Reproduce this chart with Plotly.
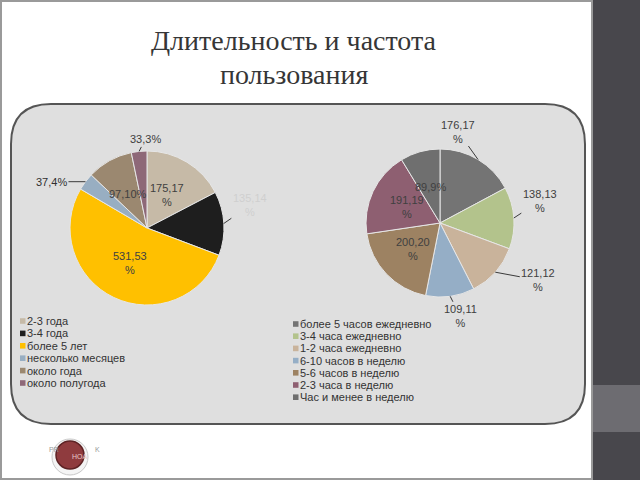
import math
import plotly.graph_objects as go

W, H = 640, 480

# ---------------- data ----------------
dur_labels = ["2-3 года", "3-4 года", "более 5 лет", "несколько месяцев", "около года", "около полугода"]
dur_values = [175, 135, 531, 37, 97, 33]
dur_pct = [17, 14, 53, 4, 10, 3]

freq_labels = ["более 5 часов ежедневно", "3-4 часа ежедневно", "1-2 часа ежедневно",
               "6-10 часов в неделю", "5-6 часов в неделю", "2-3 часа в неделю",
               "Час и менее в неделю"]
freq_values = [176, 138, 121, 109, 200, 191, 89]
freq_pct = [17, 13, 12, 11, 20, 19, 9]

title_lines = ["Длительность и частота", "пользования"]

# ---------------- styles ----------------
dur_colors = ["#c6baa7", "#1e1e1e", "#ffc000", "#98aec2", "#9b8870", "#8e6878"]
freq_colors = ["#747474", "#b3c38c", "#c9b39b", "#95aec6", "#9d8262", "#8e5f71", "#6f6f6f"]

# label placement per slice: None -> inside (half radius), (dx, dy) -> outside offset in px
dur_label_style = [None, (26, -18), None, (-34, 0), None, (6, -12)]
dur_one_line = [False, False, False, True, True, True]
dur_text_colors = ["#404040", "#cfcfcf", "#404040", "#303030", "#404040", "#404040"]

freq_label_style = [(-20, -28), (26, -17), (43, 8), (10, 20), None, None, None]
freq_one_line = [False, False, False, False, False, False, True]
freq_text_colors = ["#404040"] * 7

FONT = "Liberation Sans, Arial"


def px(x):
    return x / W


def py(y):
    return 1 - y / H


fig = go.Figure()
shapes = []
annotations = []


def add_pie(labels, values, pcts, colors, cx, cy, r, style, one_line, tcolors):
    fig.add_trace(go.Pie(
        labels=labels, values=values, textinfo="none",
        marker=dict(colors=colors, line=dict(color="#e6e6e6", width=1)),
        sort=False, direction="clockwise", rotation=0,
        domain=dict(x=[px(cx - r), px(cx + r)], y=[py(cy + r), py(cy - r)]),
        showlegend=False, hoverinfo="label+value+percent",
    ))
    total = sum(values)
    cum = 0
    for v, p, st, ol, tc in zip(values, pcts, style, one_line, tcolors):
        mid = (cum + v / 2) / total * 2 * math.pi
        cum += v
        txt = f"{v},{p}%" if ol else f"{v},{p}<br>%"
        font = dict(family=FONT, size=11, color=tc)
        if st is None:
            x = cx + 0.5 * r * math.sin(mid)
            y = cy - 0.5 * r * math.cos(mid)
            annotations.append(dict(xref="paper", yref="paper", x=px(x), y=py(y), text=txt,
                                    showarrow=False, font=font, xanchor="center", yanchor="middle"))
        else:
            x = cx + r * math.sin(mid)
            y = cy - r * math.cos(mid)
            annotations.append(dict(xref="paper", yref="paper", x=px(x), y=py(y), text=txt,
                                    showarrow=True, arrowhead=0, arrowwidth=1, arrowcolor="#3a3a3a",
                                    ax=st[0], ay=st[1], standoff=0, font=font))


# dark strip on right
shapes.append(dict(type="rect", xref="paper", yref="paper", x0=px(592), x1=1, y0=0, y1=1,
                   fillcolor="#48474c", line=dict(width=0), layer="below"))
shapes.append(dict(type="rect", xref="paper", yref="paper", x0=px(592), x1=1, y0=py(432), y1=py(385),
                   fillcolor="#6d6c71", line=dict(width=0), layer="below"))
# slide frame
shapes.append(dict(type="rect", xref="paper", yref="paper", x0=px(1), x1=px(592), y0=py(479), y1=py(1),
                   fillcolor="rgba(0,0,0,0)", line=dict(color="#9a9a9a", width=2), layer="below"))

# rounded panel
x0, y0, x1, y1, r = 11, 104, 585, 424, 40
path = (f"M {px(x0 + r)} {py(y0)} L {px(x1 - r)} {py(y0)} Q {px(x1)} {py(y0)} {px(x1)} {py(y0 + r)} "
        f"L {px(x1)} {py(y1 - r)} Q {px(x1)} {py(y1)} {px(x1 - r)} {py(y1)} "
        f"L {px(x0 + r)} {py(y1)} Q {px(x0)} {py(y1)} {px(x0)} {py(y1 - r)} "
        f"L {px(x0)} {py(y0 + r)} Q {px(x0)} {py(y0)} {px(x0 + r)} {py(y0)} Z")
shapes.append(dict(type="path", xref="paper", yref="paper", path=path,
                   fillcolor="#dfdfdf", line=dict(color="#555555", width=2), layer="below"))

add_pie(dur_labels, dur_values, dur_pct, dur_colors, 147, 228, 77,
        dur_label_style, dur_one_line, dur_text_colors)
add_pie(freq_labels, freq_values, freq_pct, freq_colors, 440, 223, 74,
        freq_label_style, freq_one_line, freq_text_colors)


# legends
def add_legend(labels, colors, x_sq, y_first, step):
    for i, (lab, col) in enumerate(zip(labels, colors)):
        yc = y_first + i * step
        shapes.append(dict(type="rect", xref="paper", yref="paper",
                           x0=px(x_sq), x1=px(x_sq + 5.5), y0=py(yc + 2.8), y1=py(yc - 2.8),
                           fillcolor=col, line=dict(width=0)))
        annotations.append(dict(xref="paper", yref="paper", x=px(x_sq + 4.5), y=py(yc),
                                xanchor="left", yanchor="middle", showarrow=False, text=lab,
                                font=dict(family=FONT, size=11, color="#333333")))


add_legend(dur_labels, dur_colors, 20, 321, 12.4)
add_legend(freq_labels, freq_colors, 293, 324, 12.2)

# title (two lines)
for i, line in enumerate(title_lines):
    annotations.append(dict(xref="paper", yref="paper", x=px(294), y=py(40 + 34 * i),
                            xanchor="center", yanchor="middle", showarrow=False, text=line,
                            font=dict(family="Liberation Serif, Times New Roman", size=28, color="#363636")))

# logo
shapes.append(dict(type="circle", xref="paper", yref="paper", x0=px(52), x1=px(88), y0=py(475), y1=py(439),
                   fillcolor="#f4f4f4", line=dict(color="#c8c8c8", width=1)))
shapes.append(dict(type="circle", xref="paper", yref="paper", x0=px(56), x1=px(84), y0=py(469), y1=py(441),
                   fillcolor="#8f3b3e", line=dict(color="#5e2325", width=1.5)))
annotations.append(dict(xref="paper", yref="paper", x=px(47), y=py(455), showarrow=False, text="PR",
                        font=dict(family=FONT, size=7, color="#9a9a9a")))
annotations.append(dict(xref="paper", yref="paper", x=px(93), y=py(455), showarrow=False, text="K",
                        font=dict(family=FONT, size=7, color="#9a9a9a")))
annotations.append(dict(xref="paper", yref="paper", x=px(70), y=py(462), showarrow=False, text="HOA",
                        font=dict(family=FONT, size=7, color="#e8c8c8")))

fig.update_layout(
    width=W, height=H, margin=dict(l=0, r=0, t=0, b=0),
    paper_bgcolor="#ffffff", plot_bgcolor="#ffffff",
    shapes=shapes, annotations=annotations, showlegend=False,
)

fig.write_html("out.html")
